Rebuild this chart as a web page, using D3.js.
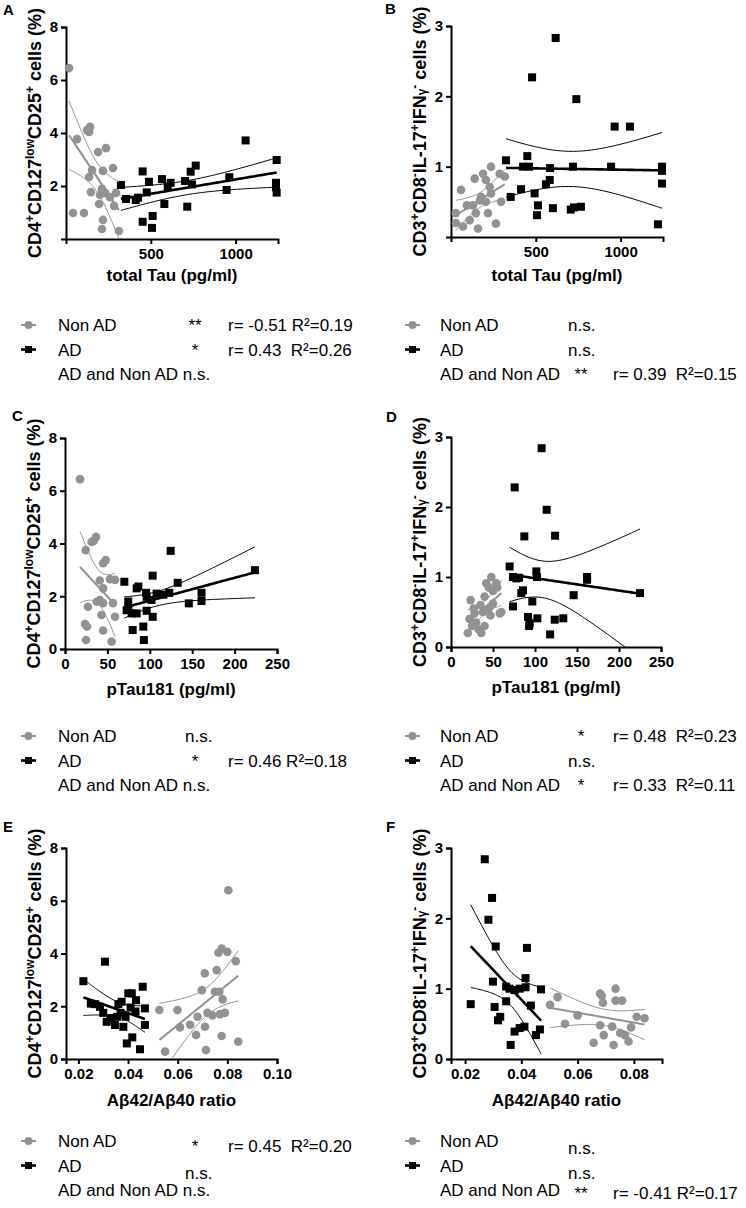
<!DOCTYPE html>
<html><head><meta charset="utf-8">
<script src="https://cdn.jsdelivr.net/npm/d3@7"></script>
<style>
body{margin:0;background:#fff}
text{font-family:"Liberation Sans",Arial,sans-serif;white-space:pre}
</style>
</head><body>
<svg id="c" width="746" height="1208"></svg>
<script>
// ---------- data (x, y) ----------
const aNonAD=[[18,6.45],[65,3.77],[124,4.11],[142,4.23],[136,4.04],[189,3.28],[236,3.43],[136,2.34],[153,2.6],[218,2.57],[277,2.68],[147,1.77],[212,1.89],[230,1.74],[200,1.66],[259,1.58],[295,1.74],[195,1.32],[283,1.25],[41,0.98],[106,0.98],[218,0.72],[212,0.38],[312,0.3]];
const aAD=[[324,2.04],[354,1.51],[411,1.47],[425,1.56],[452,2.55],[476,1.76],[489,2.16],[452,0.65],[511,0.87],[507,0.42],[566,2.26],[580,1.32],[600,1.97],[617,2.12],[702,2.19],[715,1.22],[735,2.54],[743,2.06],[765,2.77],[947,1.85],[963,2.33],[1059,3.72],[1242,2.98],[1238,2.12],[1242,1.75],[1238,1.95]];
const bNonAD=[[59,0.67],[28,0.34],[110,0.24],[130,0.45],[147,0.34],[140,0.83],[189,0.9],[206,0.81],[236,1.0],[228,0.71],[236,0.62],[206,0.5],[218,0.34],[265,0.19],[287,0.9],[317,0.86],[295,0.5],[177,0.57],[29,0.2],[71,0.15],[159,0.12],[94,0.45],[171,0.52]];
const bAD=[[324,1.09],[352,0.57],[413,0.68],[425,1.0],[450,1.15],[460,1.0],[478,2.27],[493,0.62],[513,0.45],[507,0.31],[560,0.75],[582,0.81],[584,0.98],[601,0.41],[617,2.83],[706,0.39],[719,1.0],[739,1.96],[725,0.42],[766,0.43],[944,1.0],[965,1.57],[1055,1.57],[1244,1.0],[1244,0.94],[1244,0.76],[1220,0.18]];
const cNonAD=[[17.7,6.44],[24.4,3.75],[31.4,4.06],[36.6,4.25],[34,4.1],[45,3.25],[48,3.37],[41,2.6],[53,2.65],[59,2.62],[45,2.3],[27,1.6],[37.4,1.79],[41,1.86],[45,1.74],[56.6,1.74],[43,1.29],[59,1.22],[23.6,0.95],[26,0.85],[45,0.7],[24.8,0.34],[55,0.28]];
const cAD=[[70,2.55],[74.6,1.8],[74.7,1.55],[72.7,1.47],[78.6,1.35],[84.5,1.35],[79.8,0.72],[92.3,0.85],[84.5,2.3],[86.5,2.37],[95.5,2.13],[96.3,1.98],[103.4,2.78],[102,1.86],[96.3,1.45],[103.4,1.22],[108,2.1],[116,2.06],[123,2.13],[124.6,3.72],[132.9,2.51],[146,1.73],[161,2.13],[161,1.82],[224,2.99],[93,0.34]];
const dNonAD=[[23.4,0.67],[48,1.0],[42,0.91],[53.9,0.91],[45,0.85],[50,0.8],[40,0.72],[35,0.6],[28,0.48],[58,0.48],[38,0.5],[45,0.55],[30,0.35],[25,0.3],[20,0.2],[33,0.25],[50,0.62],[55,0.85],[47,0.45],[40,0.3],[22,0.4],[60,0.5],[36,0.2],[27,0.55]];
const dAD=[[69.8,1.15],[73.8,1.0],[77.8,0.98],[81,0.99],[73.8,0.58],[83.7,0.77],[85.7,0.81],[75.8,2.28],[87.3,1.58],[96.8,0.65],[101.6,1.08],[102.4,1.0],[107.9,2.84],[113.9,1.96],[123.9,1.59],[91.7,0.43],[93.6,0.34],[102.8,0.41],[123.5,0.39],[133.7,0.41],[146,0.74],[162,1.0],[162,0.96],[225,0.77],[93,0.3],[118,0.18]];
const eNonAD=[[0.0804,6.4],[0.0777,4.19],[0.0764,4.03],[0.08,4.06],[0.0834,3.71],[0.0709,3.25],[0.0757,3.37],[0.0697,2.61],[0.075,2.55],[0.0768,2.55],[0.0781,2.26],[0.0526,1.86],[0.0599,1.86],[0.0549,0.28],[0.0609,1.2],[0.0674,0.91],[0.071,1.22],[0.0714,0.34],[0.0777,0.87],[0.0844,0.66],[0.068,1.6],[0.072,1.75],[0.074,1.65],[0.077,1.7],[0.079,1.75],[0.065,1.3]];
const eAD=[[0.022,2.95],[0.0307,3.69],[0.0267,2.08],[0.0287,1.98],[0.0361,2.08],[0.0374,2.17],[0.0401,2.49],[0.0415,2.49],[0.0432,2.23],[0.0459,2.74],[0.0468,1.92],[0.0314,1.41],[0.0347,1.29],[0.0381,1.22],[0.0395,0.59],[0.0417,0.82],[0.0448,0.37],[0.0468,1.29],[0.025,2.1],[0.03,1.75],[0.033,1.55],[0.0355,1.6],[0.037,1.75],[0.041,1.95],[0.039,1.6],[0.043,1.8]];
const fNonAD=[[0.0502,0.77],[0.0529,0.88],[0.068,0.93],[0.0686,0.9],[0.0735,1.0],[0.0735,0.83],[0.0758,0.83],[0.069,0.8],[0.0555,0.5],[0.068,0.48],[0.0693,0.34],[0.0728,0.2],[0.0657,0.23],[0.0751,0.37],[0.0781,0.25],[0.0768,0.34],[0.0723,0.46],[0.0838,0.58],[0.06,0.62],[0.081,0.6],[0.079,0.45]];
const fAD=[[0.027,2.84],[0.0296,2.29],[0.0283,1.98],[0.0309,1.6],[0.042,1.58],[0.0299,1.1],[0.0346,1.03],[0.0358,1.0],[0.0376,0.98],[0.0394,1.0],[0.0415,1.15],[0.0415,1.02],[0.047,0.99],[0.022,0.78],[0.0346,0.82],[0.0305,0.74],[0.0434,0.76],[0.0317,0.55],[0.0376,0.39],[0.0394,0.44],[0.0411,0.46],[0.0452,0.34],[0.0466,0.42],[0.0362,0.2],[0.0325,0.6]];

const ticksTau=[500,1000], ticksPTau=[0,50,100,150,200,250], ticksRatioE=[0.02,0.04,0.06,0.08,0.10], ticksRatioF=[0.02,0.04,0.06,0.08];
const ticksCD4=[0,2,4,6,8], ticksCD3=[0,1,2,3];

const legendA=[["Non AD","**","r= -0.51 R²=0.19"],["AD","*","r= 0.43  R²=0.26"],["AD and Non AD n.s.","",""]];
const legendB=[["Non AD","n.s.",""],["AD","n.s.",""],["AD and Non AD","**","r= 0.39  R²=0.15"]];
const legendC=[["Non AD","n.s.",""],["AD","*","r= 0.46 R²=0.18"],["AD and Non AD n.s.","",""]];
const legendD=[["Non AD","*","r= 0.48  R²=0.23"],["AD","n.s.",""],["AD and Non AD","*","r= 0.33  R²=0.11"]];
const legendE=[["Non AD","*","r= 0.45  R²=0.20"],["AD","n.s.",""],["AD and Non AD n.s.","",""]];
const legendF=[["Non AD","n.s.",""],["AD","n.s.",""],["AD and Non AD","**","r= -0.41 R²=0.17"]];

// ---------- drawing ----------
const svg=d3.select("#c");
const GRAY="#929292";
const FONT='"Liberation Sans",Arial,sans-serif';

function linfit(pts){
  const n=pts.length,mx=d3.mean(pts,d=>d[0]),my=d3.mean(pts,d=>d[1]);
  const sxx=d3.sum(pts,d=>(d[0]-mx)**2),sxy=d3.sum(pts,d=>(d[0]-mx)*(d[1]-my));
  const b=sxy/sxx,a=my-b*mx;
  const sse=d3.sum(pts,d=>(d[1]-a-b*d[0])**2);
  const df=n-2,s=Math.sqrt(sse/df);
  const t=1.96+2.37/df+2.8/(df*df);
  return {a,b,mx,sxx,n,s,t,ext:d3.extent(pts,d=>d[0])};
}

let clipId=0;
function panel(p){
  const x=d3.scaleLinear().domain(p.xDom).range([p.x0,p.x1]);
  const y=d3.scaleLinear().domain(p.yDom).range([p.y0,p.y1]);
  const g=svg.append("g");
  const ax=g.append("g").attr("transform",`translate(0,${p.y0})`)
    .call(d3.axisBottom(x).tickValues(p.xTicks).tickFormat(p.xFmt).tickSizeOuter(0).tickSize(5).tickPadding(4));
  const ay=g.append("g").attr("transform",`translate(${p.x0},0)`)
    .call(d3.axisLeft(y).tickValues(p.yTicks).tickFormat(d3.format("d")).tickSizeOuter(0).tickSize(5).tickPadding(3));
  [ax,ay].forEach(a=>{
    a.select(".domain").attr("stroke","#000").attr("stroke-width",2);
    a.selectAll(".tick line").attr("stroke","#000").attr("stroke-width",2);
    a.selectAll(".tick text").attr("fill","#000").style("font-family",FONT).style("font-weight","bold").style("font-size","15px");
  });
  const cid="clip"+(clipId++);
  g.append("clipPath").attr("id",cid).append("rect")
    .attr("x",p.x0).attr("y",p.y1-5).attr("width",p.x1-p.x0+5).attr("height",p.y0-p.y1+5);
  g.append("g").selectAll("circle").data(p.gray).join("circle")
    .attr("cx",d=>x(d[0])).attr("cy",d=>y(d[1])).attr("r",4.3).attr("fill",GRAY);
  g.append("g").selectAll("rect").data(p.black).join("rect")
    .attr("x",d=>x(d[0])-4).attr("y",d=>y(d[1])-4).attr("width",8).attr("height",8).attr("fill","#000");
  const lg=g.append("g").attr("clip-path",`url(#${cid})`);
  [[p.gray,GRAY,2],[p.black,"#000",2.6]].forEach(([pts,col,w])=>{
    const f=linfit(pts);
    const xs=d3.range(0,61).map(i=>f.ext[0]+(f.ext[1]-f.ext[0])*i/60);
    const pred=v=>f.a+f.b*v;
    const half=v=>f.t*f.s*Math.sqrt(1/f.n+(v-f.mx)**2/f.sxx);
    const line=d3.line().x(d=>x(d[0])).y(d=>y(d[1]));
    lg.append("path").attr("d",line(xs.map(v=>[v,pred(v)]))).attr("fill","none").attr("stroke",col).attr("stroke-width",w);
    lg.append("path").attr("d",line(xs.map(v=>[v,pred(v)+half(v)]))).attr("fill","none").attr("stroke",col).attr("stroke-width",1);
    lg.append("path").attr("d",line(xs.map(v=>[v,pred(v)-half(v)]))).attr("fill","none").attr("stroke",col).attr("stroke-width",1);
  });
  svg.append("text").attr("x",(p.x0+p.x1)/2).attr("y",p.y0+p.titleOff).attr("text-anchor","middle")
    .style("font-weight","bold").style("font-size","17px").text(p.xTitle);
  const yt=svg.append("text").attr("transform",`translate(${p.x0-25},${(p.y0+p.y1)/2}) rotate(-90)`)
    .attr("text-anchor","middle").style("font-weight","bold").style("font-size","18px");
  p.yTitle.forEach(([t,kind])=>{
    const ts=yt.append("tspan").text(t);
    if(kind==="sup") ts.style("font-size","12px").attr("baseline-shift","super");
    if(kind==="sub") ts.style("font-size","12px");
  });
  svg.append("text").attr("x",p.letter[0]).attr("y",p.letter[1]).style("font-weight","bold").style("font-size","15px").text(p.id);
  const L=p.leg;
  p.legend.forEach((row,i)=>{
    const by=L.y+i*24.5;
    const cy=by-6;
    const col=i===0?GRAY:"#000";
    if(i<2){
      svg.append("line").attr("x1",L.mx).attr("x2",L.mx+15).attr("y1",cy).attr("y2",cy).attr("stroke",col).attr("stroke-width",i===0?2:2.6);
      if(i===0) svg.append("circle").attr("cx",L.mx+7.5).attr("cy",cy).attr("r",4).attr("fill",GRAY);
      else svg.append("rect").attr("x",L.mx+4).attr("y",cy-3.5).attr("width",7).attr("height",7).attr("fill","#000");
    }
    svg.append("text").attr("x",L.tx).attr("y",by).style("font-size","17px").text(row[0]);
    const off=(L.dy&&L.dy[i])||0;
    if(row[1]==="n.s.") svg.append("text").attr("x",L.ns).attr("y",by+off).style("font-size","17px").text(row[1]);
    else if(row[1]) svg.append("text").attr("x",L.star).attr("y",by+off).attr("text-anchor","middle").style("font-size","17px").text(row[1]);
    if(row[2]) svg.append("text").attr("x",L.st).attr("y",by+off).style("font-size","17px").text(row[2]);
  });
}

const cd4Title=[["CD4"],["+","sup"],["CD127"],["low","sup"],["CD25"],["+","sup"],[" cells (%)"]];
const cd3Title=[["CD3"],["+","sup"],["CD8"],["-","sup"],["IL-17"],["+","sup"],["IFN"],["γ","sub"],["-","sup"],[" cells (%)"]];
const legL={mx:21,tx:58,ns:185,star:195,st:228};
const legR={mx:405,tx:440,ns:568,star:581,st:613};

panel({id:"A",x0:66,x1:278,y0:239,y1:27,xDom:[0,1250],yDom:[0,8],xTicks:ticksTau,yTicks:ticksCD4.slice(1),xFmt:d3.format("d"),titleOff:42,
  gray:aNonAD,black:aAD,xTitle:"total Tau (pg/ml)",yTitle:cd4Title,letter:[3,15],legend:legendA,leg:{...legL,y:331}});
panel({id:"B",x0:451,x1:663,y0:237,y1:26,xDom:[0,1250],yDom:[0,3],xTicks:ticksTau,yTicks:ticksCD3.slice(1),xFmt:d3.format("d"),titleOff:44,
  gray:bNonAD,black:bAD,xTitle:"total Tau (pg/ml)",yTitle:cd3Title,letter:[385,14],legend:legendB,leg:{...legR,y:331}});
panel({id:"C",x0:65,x1:277,y0:649,y1:438,xDom:[0,250],yDom:[0,8],xTicks:ticksPTau,yTicks:ticksCD4,xFmt:d3.format("d"),titleOff:46,
  gray:cNonAD,black:cAD,xTitle:"pTau181 (pg/ml)",yTitle:cd4Title,letter:[12,421],legend:legendC,leg:{...legL,y:742}});
panel({id:"D",x0:451,x1:661,y0:647,y1:437,xDom:[0,250],yDom:[0,3],xTicks:ticksPTau,yTicks:ticksCD3,xFmt:d3.format("d"),titleOff:46,
  gray:dNonAD,black:dAD,xTitle:"pTau181 (pg/ml)",yTitle:cd3Title,letter:[386,422],legend:legendD,leg:{...legR,y:742}});
panel({id:"E",x0:66,x1:277,y0:1059,y1:848,xDom:[0.015,0.10],yDom:[0,8],xTicks:ticksRatioE,yTicks:ticksCD4,xFmt:d3.format(".2f"),titleOff:47,
  gray:eNonAD,black:eAD,xTitle:"Aβ42/Aβ40 ratio",yTitle:cd4Title,letter:[3,832],legend:legendE,leg:{...legL,y:1147,dy:[5,7,0]}});
panel({id:"F",x0:451,x1:662,y0:1059,y1:848,xDom:[0.015,0.09],yDom:[0,3],xTicks:ticksRatioF,yTicks:ticksCD3,xFmt:d3.format(".2f"),titleOff:47,
  gray:fNonAD,black:fAD,xTitle:"Aβ42/Aβ40 ratio",yTitle:cd3Title,letter:[386,832],legend:legendF,leg:{...legR,y:1147,dy:[7,7,3]}});
</script>
</body></html>
